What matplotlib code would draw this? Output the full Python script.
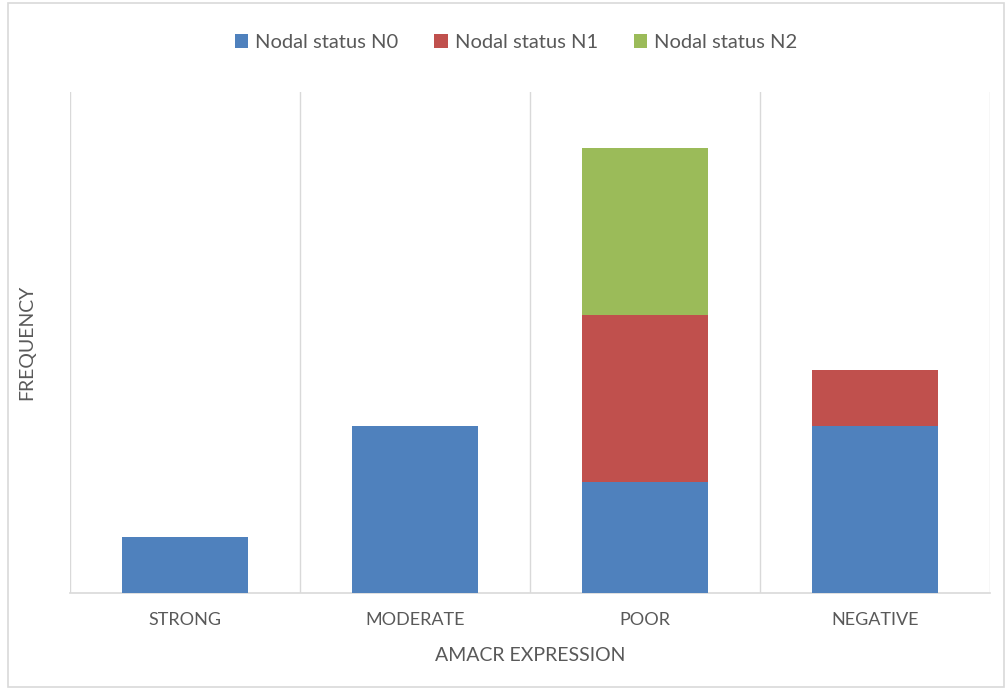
import matplotlib.pyplot as plt
import numpy as np
from matplotlib.patches import Rectangle

plt.rcParams['font.family'] = ['Lato', 'DejaVu Sans']

# AMACR expression categories and counts per nodal status
categories = ['STRONG', 'MODERATE', 'POOR', 'NEGATIVE']
n0 = [1, 3, 2, 3]
n1 = [0, 0, 3, 1]
n2 = [0, 0, 3, 0]
series_names = ['Nodal status N0', 'Nodal status N1', 'Nodal status N2']
colors = ['#4f81bd', '#c0504d', '#9bbb59']

text_color = '#595959'
grid_color = '#d9d9d9'

fig = plt.figure(figsize=(10.06, 6.91), dpi=100)
ax = fig.add_axes([0.0696, 0.1418, 0.9144, 0.7251])

x = np.arange(len(categories))
width = 0.55
bottom = np.zeros(len(categories))
for vals, name, col in zip([n0, n1, n2], series_names, colors):
    ax.bar(x, vals, width, bottom=bottom, color=col, label=name, zorder=3)
    bottom += np.array(vals)

ax.set_xlim(-0.5, len(categories) - 0.5)
ax.set_ylim(0, 9)
ax.set_yticks([])

# vertical gridlines between categories
for b in np.arange(-0.5, len(categories), 1.0):
    ax.axvline(b, color=grid_color, lw=1, zorder=1)

for s in ['top', 'right', 'left']:
    ax.spines[s].set_visible(False)
ax.spines['bottom'].set_color(grid_color)
ax.spines['bottom'].set_linewidth(1.2)

ax.set_xticks(x)
ax.set_xticklabels(categories, fontsize=13, color=text_color)
ax.tick_params(axis='x', length=0, pad=14)
ax.set_xlabel('AMACR EXPRESSION', fontsize=14, color=text_color, labelpad=13)
ax.set_ylabel('FREQUENCY', fontsize=14, color=text_color, labelpad=25)

leg = fig.legend(loc='upper center', bbox_to_anchor=(0.513, 0.977), ncol=3,
                 frameon=False, fontsize=14.5, handlelength=0.65, handleheight=0.65,
                 handletextpad=0.35, columnspacing=1.8)
for t in leg.get_texts():
    t.set_color(text_color)

# chart frame
fig.patches.append(Rectangle((0.008, 0.006), 0.99, 0.99, transform=fig.transFigure,
                             fill=False, edgecolor=grid_color, lw=1.2))

fig.savefig('out.png', dpi=100)
